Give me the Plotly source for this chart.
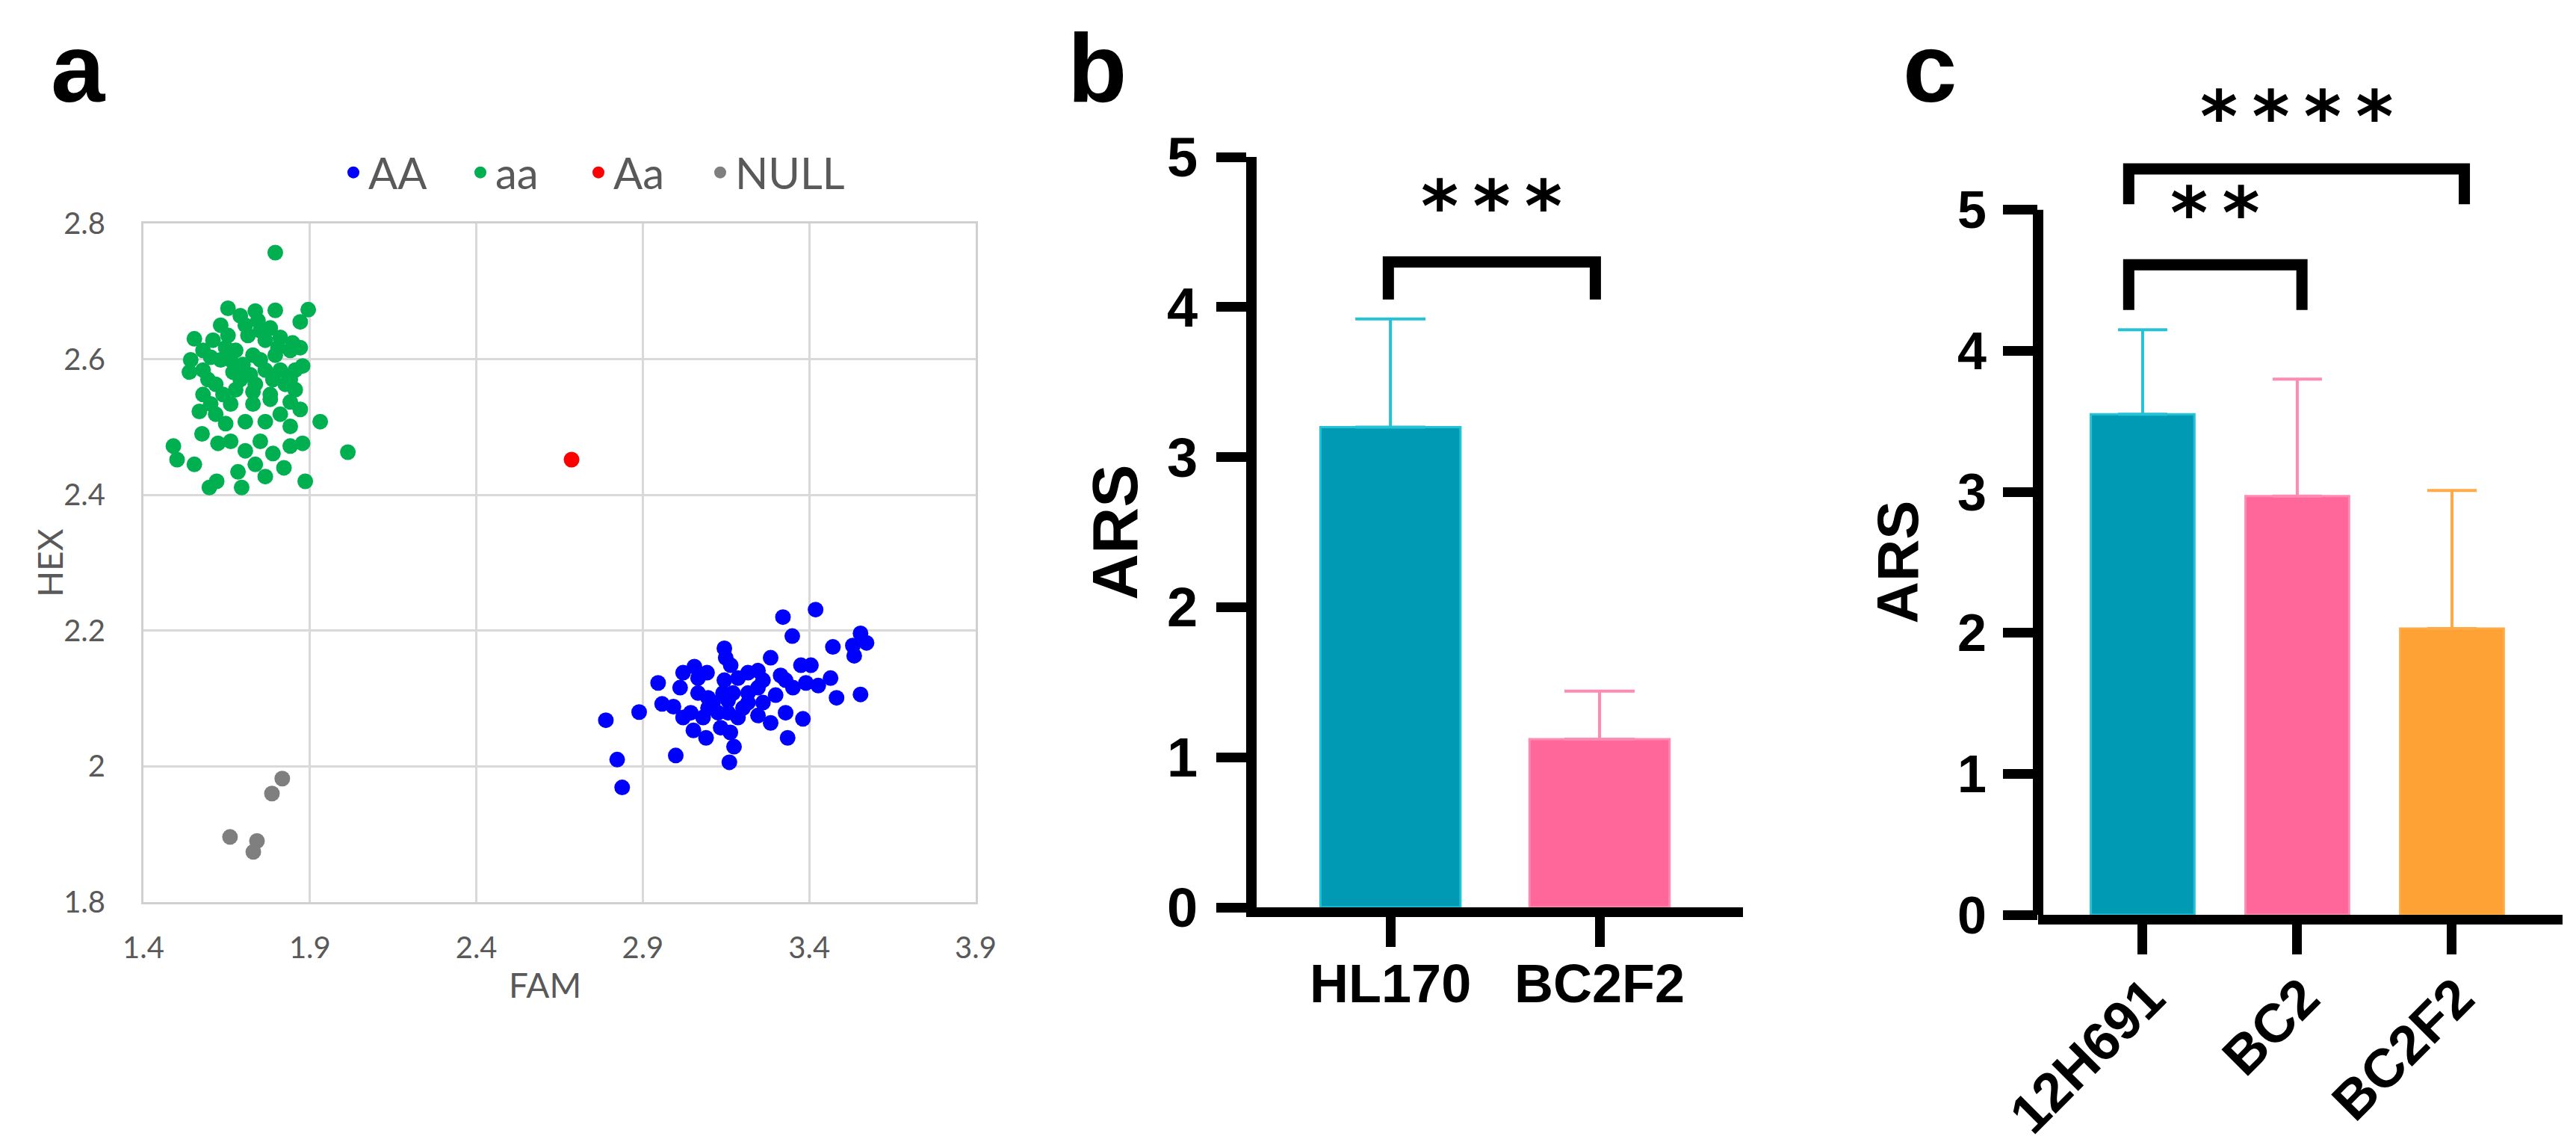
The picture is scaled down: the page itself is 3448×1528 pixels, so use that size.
import plotly.graph_objects as go

# ---- panel a: KASP genotyping, FAM vs HEX fluorescence ----
AA_fam = [2.789, 2.823, 2.838, 2.889, 2.946, 2.999, 2.958, 2.992, 3.012, 3.021, 3.055, 3.093,
          3.145, 3.149, 3.164, 3.145, 3.066, 3.096, 3.044, 3.052, 3.090, 3.134, 3.163, 3.174,
          3.160, 3.126, 3.156, 3.201, 3.216, 3.246, 3.284, 3.246, 3.246, 3.284, 3.329, 3.299,
          3.329, 3.375, 3.405, 3.390, 3.427, 3.464, 3.482, 3.381, 3.335, 3.321, 3.349, 3.419,
          3.471, 3.554, 3.535, 3.572, 3.554, 3.531, 3.186, 3.216, 3.111, 3.021, 3.081, 3.186,
          3.261, 3.351, 3.141, 3.171, 3.261, 3.314, 3.066, 3.096, 3.156, 3.216]
AA_hex = [2.068, 2.010, 1.969, 2.080, 2.123, 2.016, 2.092, 2.088, 2.116, 2.138, 2.147, 2.138,
          2.174, 2.160, 2.149, 2.127, 2.108, 2.101, 2.079, 2.053, 2.042, 2.057, 2.050, 2.029,
          2.006, 2.079, 2.097, 2.086, 2.138, 2.141, 2.160, 2.116, 2.075, 2.064, 2.079, 2.105,
          2.127, 2.149, 2.149, 2.123, 2.119, 2.130, 2.101, 2.070, 2.042, 2.220, 2.192, 2.231,
          2.176, 2.196, 2.163, 2.182, 2.106, 2.178, 2.130, 2.108, 2.094, 2.072, 2.072, 2.072,
          2.094, 2.116, 2.108, 2.108, 2.127, 2.134, 2.130, 2.086, 2.079, 2.094]

aa_fam = [1.796, 1.654, 1.736, 1.796, 1.895, 1.871, 1.553, 1.542, 1.538, 1.878, 1.871, 1.848,
          1.856, 1.871, 1.931, 1.568, 1.576, 1.624, 1.490, 1.501, 1.553, 1.598, 1.620, 1.695,
          1.684, 1.766, 1.822, 1.886, 1.878, 1.841, 1.789, 1.751, 1.706, 1.662, 1.736, 1.841,
          1.811, 1.766, 1.706, 1.647, 1.602, 1.617, 1.662, 1.729, 1.781, 1.841, 1.579, 2.014,
          1.632, 1.691, 1.744, 1.781, 1.811, 1.841, 1.856, 1.826, 1.781, 1.729, 1.677, 1.617,
          1.579, 1.579, 1.609, 1.654, 1.714, 1.766, 1.796, 1.766, 1.721, 1.669, 1.632, 1.677,
          1.729, 1.699, 1.647, 1.751, 1.811, 1.841, 1.594, 1.736, 1.789, 1.691, 1.639, 1.706,
          1.804, 1.662, 1.751, 1.602]
aa_hex = [2.757, 2.675, 2.671, 2.672, 2.673, 2.655, 2.630, 2.599, 2.581, 2.590, 2.617, 2.624,
          2.555, 2.526, 2.508, 2.523, 2.490, 2.476, 2.472, 2.452, 2.445, 2.411, 2.420, 2.411,
          2.434, 2.427, 2.440, 2.420, 2.476, 2.472, 2.461, 2.479, 2.465, 2.479, 2.445, 2.501,
          2.519, 2.508, 2.508, 2.505, 2.534, 2.519, 2.534, 2.534, 2.541, 2.537, 2.548, 2.463,
          2.650, 2.664, 2.657, 2.646, 2.632, 2.613, 2.584, 2.563, 2.548, 2.552, 2.555, 2.563,
          2.584, 2.613, 2.628, 2.635, 2.635, 2.628, 2.606, 2.584, 2.577, 2.581, 2.599, 2.613,
          2.606, 2.592, 2.617, 2.642, 2.584, 2.570, 2.570, 2.563, 2.570, 2.570, 2.548, 2.650,
          2.617, 2.599, 2.599, 2.603]

Aa_fam = [2.686]
Aa_hex = [2.452]

null_fam = [1.660, 1.741, 1.730, 1.786, 1.817]
null_hex = [1.896, 1.890, 1.874, 1.960, 1.982]

# ---- panel b / c: ARS, mean + SD ----
b_groups = ["HL170", "BC2F2"]
b_mean = [3.20, 1.12]
b_sd = [0.72, 0.32]

c_groups = ["12H691", "BC2", "BC2F2"]
c_mean = [3.55, 2.97, 2.03]
c_sd = [0.60, 0.83, 0.98]

# significance brackets: left, right, top, leg end, label
b_sig = [(-0.01, 0.98, 4.30, 4.05, "***")]
c_sig = [(-0.09, 1.03, 4.61, 4.29, "**"),
         (-0.09, 2.08, 5.29, 5.04, "****")]

bar_fill = ["#009AB4", "#FF6699", "#FFA235"]
bar_err = ["#25C2D6", "#FF8CB0", "#FFAA45"]

W, H = 3448, 1528
GREY = "#595959"
BOLD = dict(family="Liberation Sans, Arial", color="black", weight="bold")

fig = go.Figure()

# one legend per genotype so the entries can sit where the reference has them
geno = [("AA", AA_fam, AA_hex, "#0000FF", "legend", 445),
        ("aa", aa_fam, aa_hex, "#00B050", "legend2", 615),
        ("Aa", Aa_fam, Aa_hex, "#FF0000", "legend3", 773),
        ("NULL", null_fam, null_hex, "#7F7F7F", "legend4", 936)]
for nm, xs, ys, col, lg, lx in geno:
    fig.add_trace(go.Scatter(x=xs, y=ys, mode="markers", name=nm, legend=lg,
                             marker=dict(color=col, size=21, line=dict(width=0)),
                             xaxis="x", yaxis="y"))
    fig.update_layout({lg: dict(orientation="h", x=lx / W, xanchor="left", y=1 - 223 / H,
                                yanchor="middle", font=dict(family="Lato", size=58, color=GREY),
                                bgcolor="rgba(0,0,0,0)", borderwidth=0, itemwidth=30)})


def add_bars(groups, means, sds, ax, capw):
    for i in range(len(groups)):
        fig.add_trace(go.Bar(x=[i], y=[means[i]], width=0.67, showlegend=False,
                             marker=dict(color=bar_fill[i], line=dict(color=bar_err[i], width=3)),
                             error_y=dict(type="data", array=[sds[i]], arrayminus=[0], symmetric=False,
                                          color=bar_err[i], thickness=4, width=capw),
                             xaxis="x" + ax, yaxis="y" + ax))


def add_sig(sig, ax):
    for l, r, top, leg, lab in sig:
        fig.add_trace(go.Scatter(x=[l, l, r, r], y=[leg, top, top, leg], mode="lines",
                                 line=dict(color="black", width=15), showlegend=False,
                                 hoverinfo="skip", xaxis="x" + ax, yaxis="y" + ax))
        fig.add_annotation(x=(l + r) / 2, y=top + 0.38, xref="x" + ax, yref="y" + ax,
                           text="\u2009".join(lab), showarrow=False, yshift=-3,
                           xanchor="center", yanchor="middle",
                           font=dict(family="DejaVu Sans", size=96, color="black", weight="bold"))


add_bars(b_groups, b_mean, b_sd, "2", 47)
add_bars(c_groups, c_mean, c_sd, "3", 33)
add_sig(b_sig, "2")
add_sig(c_sig, "3")

afont = dict(family="Lato", size=40, color=GREY)
fig.update_layout(
    template="none",
    width=W, height=H, margin=dict(l=0, r=0, t=0, b=0, autoexpand=False),
    paper_bgcolor="white", plot_bgcolor="white", barmode="overlay",
    xaxis=dict(domain=[184 / W, 1298 / W], range=[1.4, 3.9], tick0=1.4, dtick=0.5,
               showgrid=True, gridcolor="#D9D9D9", gridwidth=3, zeroline=False,
               showline=True, mirror=True, linecolor="#D0D0D0", linewidth=3, automargin=False,
               ticks="", tickfont=afont, ticklabelstandoff=24),
    yaxis=dict(domain=[1 - 1199 / H, 1 - 291 / H], range=[1.8, 2.8], tick0=1.8, dtick=0.2,
               showgrid=True, gridcolor="#D9D9D9", gridwidth=3, zeroline=False,
               showline=True, mirror=True, linecolor="#D0D0D0", linewidth=3, automargin=False,
               ticks="outside", ticklen=40, tickcolor="rgba(0,0,0,0)", tickfont=afont),
    xaxis2=dict(domain=[1674 / W, 2325 / W], range=[-0.64, 1.686], anchor="y2",
                tickvals=list(range(len(b_groups))), ticktext=b_groups, automargin=False,
                showgrid=False, zeroline=False, showline=True, linecolor="black", linewidth=13,
                ticks="outside", ticklen=40, tickwidth=13, tickcolor="black",
                tickfont=dict(BOLD, size=72), ticklabelstandoff=-12),
    yaxis2=dict(domain=[1 - 1206 / H, 1 - 202 / H], range=[0, 5], anchor="x2",
                tickvals=[0, 1, 2, 3, 4, 5], showgrid=False, zeroline=False, automargin=False,
                showline=True, linecolor="black", linewidth=14,
                ticks="outside", ticklen=40, tickwidth=13, tickcolor="black",
                tickfont=dict(BOLD, size=74), ticklabelstandoff=10),
    xaxis3=dict(domain=[2720 / W, 3422 / W], range=[-0.676, 2.715], anchor="y3",
                tickvals=list(range(len(c_groups))), ticktext=c_groups, tickangle=-45,
                showgrid=False, zeroline=False, showline=True, linecolor="black", linewidth=13,
                ticks="outside", ticklen=40, tickwidth=13, tickcolor="black", automargin=False,
                tickfont=dict(BOLD, size=73), ticklabelstandoff=-14, ticklabelshift=8),
    yaxis3=dict(domain=[1 - 1216 / H, 1 - 103 / H], range=[0, 5.9], anchor="x3",
                tickvals=[0, 1, 2, 3, 4, 5], showgrid=False, zeroline=False, showline=False,
                ticks="outside", ticklen=46, tickwidth=13, tickcolor="black", automargin=False,
                tickfont=dict(BOLD, size=70), ticklabelstandoff=8),
)

# y axis line of panel c stops at 5 (stars sit above it)
fig.add_shape(type="line", xref="x3 domain", x0=0, x1=0, yref="y3", y0=-0.035, y1=5,
              line=dict(color="black", width=14))

# axis titles
fig.add_annotation(text="FAM", xref="x domain", x=0.5, xshift=-20, yref="y domain", y=0,
                   yshift=-110, xanchor="center", yanchor="middle", showarrow=False,
                   font=dict(family="Lato", size=46, color=GREY))
fig.add_annotation(text="HEX", xref="x domain", x=0, xshift=-126, yref="y domain", y=0.5,
                   xanchor="center", yanchor="middle", textangle=-90, showarrow=False,
                   font=dict(family="Lato", size=46, color=GREY))
fig.add_annotation(text="ARS", xref="x2 domain", x=0, xshift=-190, yref="y2", y=2.5,
                   xanchor="center", yanchor="middle", textangle=-90, showarrow=False,
                   font=dict(BOLD, size=86))
fig.add_annotation(text="ARS", xref="x3 domain", x=0, xshift=-188, yref="y3", y=2.5,
                   xanchor="center", yanchor="middle", textangle=-90, showarrow=False,
                   font=dict(BOLD, size=78))

# panel letters
for lab, px in [("a", 58), ("b", 1419), ("c", 2537)]:
    fig.add_annotation(text=lab, xref="paper", x=px / W, xanchor="left",
                       yref="paper", y=1 - 83 / H, yanchor="middle", showarrow=False,
                       font=dict(BOLD, size=130))

fig.write_html("out.html")
